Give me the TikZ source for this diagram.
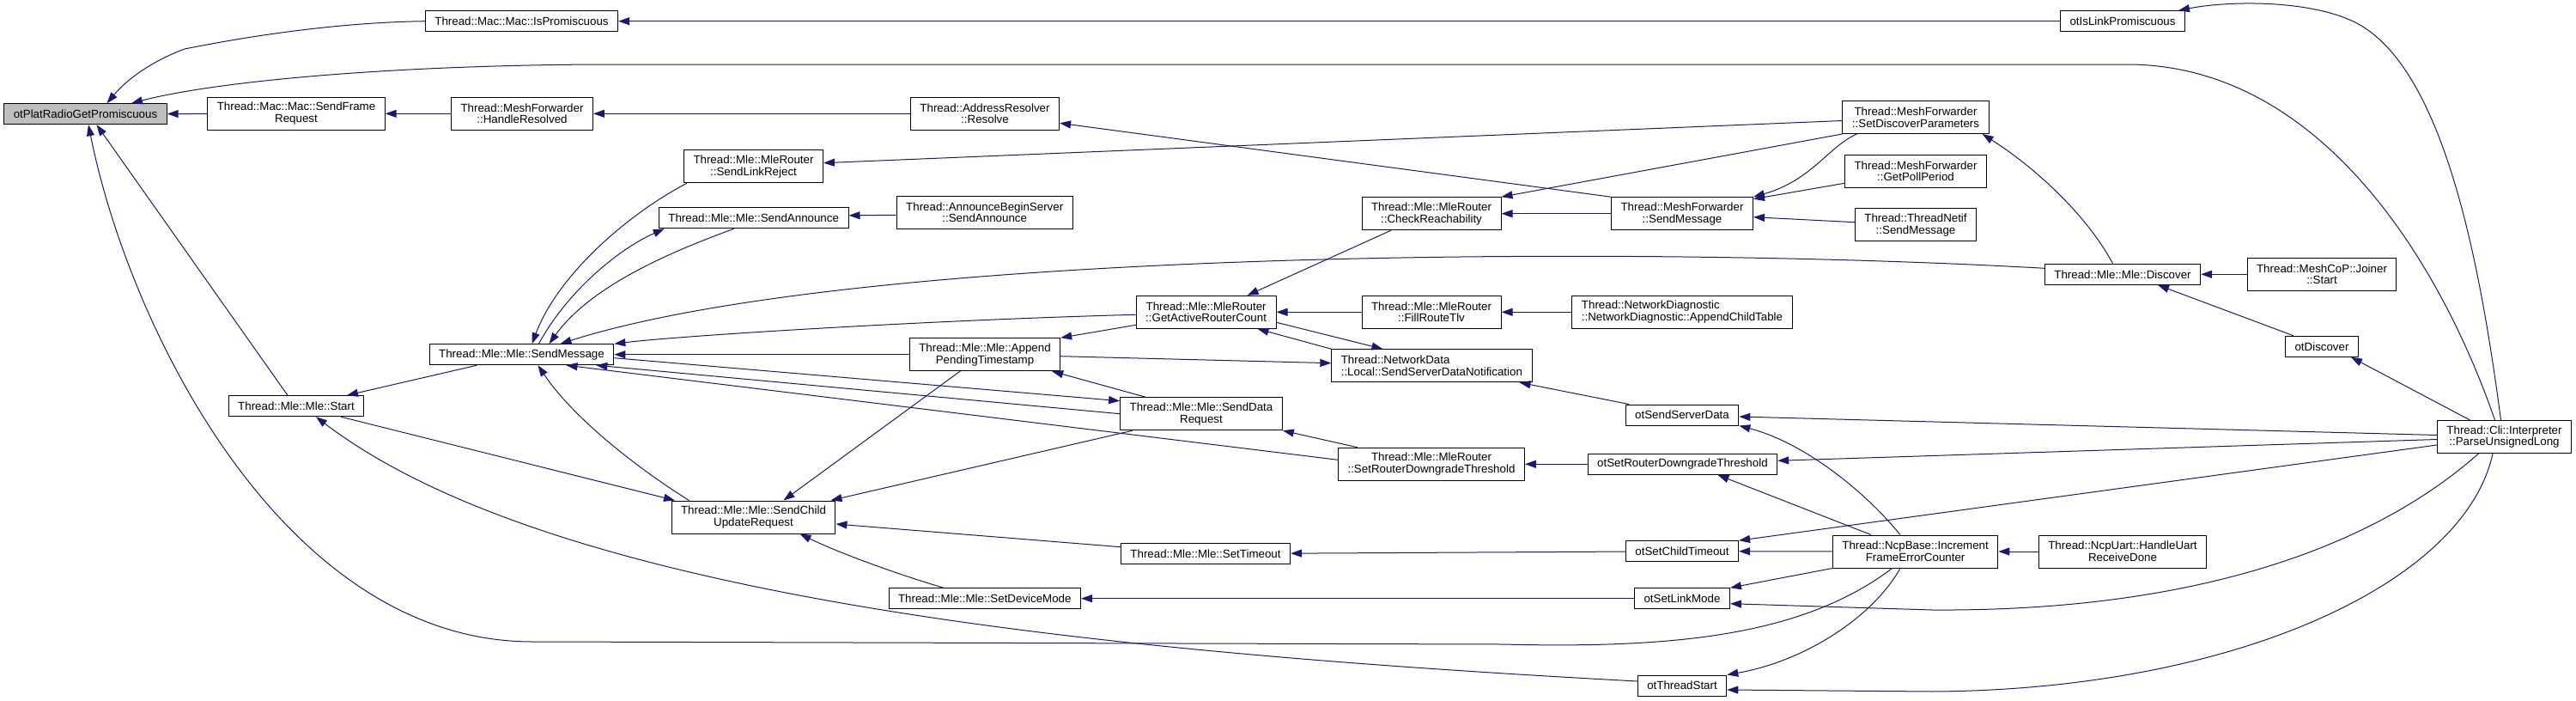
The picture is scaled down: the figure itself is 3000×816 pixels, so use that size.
\documentclass[tikz,border=0pt]{standalone}
\usepackage{fontspec}
\setmainfont{Liberation Sans}
\usetikzlibrary{arrows.meta}
\definecolor{callblue}{RGB}{25,25,112}
\definecolor{hlgray}{RGB}{191,191,191}
\tikzset{
  fn/.style={draw=black, line width=1pt, fill=white, inner xsep=11pt, inner ysep=2pt,
    minimum height=24pt, align=center, font=\fontsize{13.33}{13.8}\selectfont},
  fnl/.style={fn, align=left},
  two/.style={minimum height=38pt},
  hl/.style={fill=hlgray},
  callarrow/.style={draw=callblue, line width=1pt, -{Triangle[length=13pt,width=9pt]}}
}
\begin{document}
\begin{tikzpicture}[x=1pt,y=-1pt]
\useasboundingbox (0,0) rectangle (3000,816);

\node[fn,hl] (plat) at (99.5,132.7) {otPlatRadioGetPromiscuous};
\node[fn] (macprom) at (607.5,24.7) {Thread::Mac::Mac::IsPromiscuous};
\node[fn] (islink) at (2472,24.7) {otIsLinkPromiscuous};
\node[fn,two] (sendframe) at (345,132.3) {Thread::Mac::Mac::SendFrame\\Request};
\node[fn,two] (handleres) at (608,132.3) {Thread::MeshForwarder\\::HandleResolved};
\node[fn,two] (resolve) at (1147,132.3) {Thread::AddressResolver\\::Resolve};
\node[fn,two] (linkreject) at (877.5,193.7) {Thread::Mle::MleRouter\\::SendLinkReject};
\node[fn] (mleannounce) at (877.7,253.8) {Thread::Mle::Mle::SendAnnounce};
\node[fn,two] (beginserver) at (1146.7,247.3) {Thread::AnnounceBeginServer\\::SendAnnounce};
\node[fn,two] (reach) at (1667,248.7) {Thread::Mle::MleRouter\\::CheckReachability};
\node[fn,two] (mfsend) at (1959,248.7) {Thread::MeshForwarder\\::SendMessage};
\node[fn,two] (discparams) at (2231,136.5) {Thread::MeshForwarder\\::SetDiscoverParameters};
\node[fn,two] (pollperiod) at (2231,199.3) {Thread::MeshForwarder\\::GetPollPeriod};
\node[fn,two] (netifsend) at (2231,261.7) {Thread::ThreadNetif\\::SendMessage};
\node[fn] (mlesend) at (607.5,412.7) {Thread::Mle::Mle::SendMessage};
\node[fn] (mlestart) at (345,472.7) {Thread::Mle::Mle::Start};
\node[fn,two] (pending) at (1147,412.7) {Thread::Mle::Mle::Append\\PendingTimestamp};
\node[fn,two] (activecount) at (1404.6,363.3) {Thread::Mle::MleRouter\\::GetActiveRouterCount};
\node[fn,two] (datareq) at (1399,481.7) {Thread::Mle::Mle::SendData\\Request};
\node[fn,two] (routetlv) at (1667,363.3) {Thread::Mle::MleRouter\\::FillRouteTlv};
\node[fnl,two] (childtable) at (1959,363.3) {Thread::NetworkDiagnostic\\::NetworkDiagnostic::AppendChildTable};
\node[fnl,two] (notify) at (1667.4,425.7) {Thread::NetworkData\\::Local::SendServerDataNotification};
\node[fn] (srvdata) at (1959,483) {otSendServerData};
\node[fn,two] (downgrade) at (1667,540.3) {Thread::Mle::MleRouter\\::SetRouterDowngradeThreshold};
\node[fn] (otdowngrade) at (1959.4,540.3) {otSetRouterDowngradeThreshold};
\node[fn] (mlediscover) at (2472,319.3) {Thread::Mle::Mle::Discover};
\node[fn,two] (joiner) at (2704,319.3) {Thread::MeshCoP::Joiner\\::Start};
\node[fn] (otdiscover) at (2704,403.3) {otDiscover};
\node[fn,two] (cli) at (2916.5,508.5) {Thread::Cli::Interpreter\\::ParseUnsignedLong};
\node[fn,two] (childupd) at (877.5,602) {Thread::Mle::Mle::SendChild\\UpdateRequest};
\node[fn] (settimeout) at (1404,644.7) {Thread::Mle::Mle::SetTimeout};
\node[fn] (devmode) at (1146.8,696.7) {Thread::Mle::Mle::SetDeviceMode};
\node[fn] (childtimeout) at (1959,641.7) {otSetChildTimeout};
\node[fn,two] (ncpbase) at (2230.6,642) {Thread::NcpBase::Increment\\FrameErrorCounter};
\node[fn] (linkmode) at (1959,696.7) {otSetLinkMode};
\node[fn] (threadstart) at (1959,798) {otThreadStart};
\node[fn,two] (ncpuart) at (2472,642) {Thread::NcpUart::HandleUart\\ReceiveDone};

\draw[callarrow] (macprom.west) .. controls (400,26) and (300,40) .. (215,57) .. controls (180,70) and (150,90) .. ([xshift=25pt]plat.north);
\draw[callarrow] ([xshift=-11pt]cli.north) .. controls (2840,300) and (2700,77) .. (2480,75) -- (700,75) .. controls (450,76) and (250,95) .. ([xshift=53.5pt]plat.north);
\draw[callarrow] (sendframe) -- (plat);
\draw[callarrow] ([xshift=-10pt]mlestart.north) -- ([xshift=13pt]plat.south);
\draw[callarrow] ([xshift=-27pt]ncpbase.south) .. controls (2100,740) and (1950,755) .. (1750,750) -- (620,747) .. controls (330,747) and (150,380) .. ([xshift=3.5pt]plat.south);
\draw[callarrow] (islink) -- (macprom);
\draw[callarrow] ([xshift=-4pt]cli.north) .. controls (2890,320) and (2850,90) .. (2750,30) .. controls (2700,0) and (2600,0) .. ([xshift=65pt]islink.north);
\draw[callarrow] (handleres) -- (sendframe);
\draw[callarrow] (resolve) -- (handleres);
\draw[callarrow] (mfsend.north west) -- ([yshift=-11pt]resolve.east);
\draw[callarrow] ([yshift=-4pt]discparams.west) -- ([yshift=4pt]linkreject.east);
\draw[callarrow] ([yshift=-3pt]beginserver.west) -- ([yshift=3pt]mleannounce.east);

\draw[callarrow] ([xshift=-77.5pt]linkreject.south) .. controls (730,250) and (650,320) .. ([xshift=12pt]mlesend.north);
\draw[callarrow] ([xshift=20pt]mlesend.north) .. controls (660,340) and (720,290) .. ([xshift=-104pt]mleannounce.south);
\draw[callarrow] ([xshift=-23pt]mleannounce.south) .. controls (790,290) and (690,330) .. ([xshift=32pt]mlesend.north);
\draw[callarrow] ([yshift=7pt]mlediscover.west) .. controls (1900,285) and (1000,290) .. ([xshift=45pt]mlesend.north);
\draw[callarrow] ([yshift=-3pt]activecount.west) .. controls (1100,372) and (800,390) .. (mlesend.north east);
\draw[callarrow] (pending) -- (mlesend);
\draw[callarrow] ([yshift=-4pt]mlesend.east) -- ([yshift=15pt]datareq.west);
\draw[callarrow] (datareq.west) -- ([xshift=-21pt]mlesend.south east);
\draw[callarrow] ([yshift=5pt]downgrade.west) -- ([xshift=52pt]mlesend.south);
\draw[callarrow] ([xshift=-75pt]childupd.north) .. controls (750,550) and (670,490) .. ([xshift=19pt]mlesend.south);
\draw[callarrow] ([xshift=-52pt]mlesend.south) -- ([xshift=59pt]mlestart.north);

\draw[callarrow] ([yshift=5pt]threadstart.west) .. controls (1300,760) and (650,700) .. ([xshift=23pt]mlestart.south);
\draw[callarrow] ([xshift=52pt]mlestart.south) -- ([xshift=-91.5pt]childupd.north);
\draw[callarrow] ([xshift=-29pt]pending.south) -- ([xshift=35pt]childupd.north);
\draw[callarrow] ([xshift=-80pt]datareq.south) -- ([xshift=90pt]childupd.north);
\draw[callarrow] ([yshift=8pt]settimeout.west) -- ([yshift=-8pt]childupd.east);
\draw[callarrow] ([xshift=-48pt]devmode.north) .. controls (1050,670) and (980,645) .. ([xshift=54pt]childupd.south);

\draw[callarrow] ([yshift=-15pt]activecount.west) -- (pending.north east);
\draw[callarrow] ([xshift=-65pt]datareq.north) -- ([xshift=-10pt]pending.south east);
\draw[callarrow] ([yshift=-2pt]pending.east) -- ([yshift=3pt]notify.west);
\draw[callarrow] ([xshift=-47pt]reach.south) -- ([xshift=48pt]activecount.north);
\draw[callarrow] (routetlv) -- (activecount);
\draw[callarrow] (notify.north west) -- ([xshift=-22pt]activecount.south east);
\draw[callarrow] ([yshift=-12pt]activecount.east) -- ([xshift=-57pt]notify.north);
\draw[callarrow] (childtable) -- (routetlv);
\draw[callarrow] ([xshift=-62pt]srvdata.north) -- ([xshift=-15pt]notify.south east);
\draw[callarrow] ([xshift=-86pt]downgrade.north) -- (datareq.south east);
\draw[callarrow] (otdowngrade) -- (downgrade);

\draw[callarrow] (mfsend) -- (reach);
\draw[callarrow] (discparams.south west) -- (reach.north east);
\draw[callarrow] ([xshift=-68.5pt]discparams.south) .. controls (2130,170) and (2110,210) .. (mfsend.north east);
\draw[callarrow] ([yshift=-14pt]pollperiod.west) -- ([yshift=17pt]mfsend.east);
\draw[callarrow] ([yshift=3pt]netifsend.west) -- ([yshift=-4pt]mfsend.east);
\draw[callarrow] ([xshift=-11.5pt]mlediscover.north) .. controls (2430,250) and (2370,195) .. ([xshift=-8pt]discparams.south east);
\draw[callarrow] (joiner) -- (mlediscover);
\draw[callarrow] ([xshift=-33pt]otdiscover.north) -- ([xshift=41pt]mlediscover.south);
\draw[callarrow] ([xshift=-40pt]cli.north) -- ([xshift=34pt]otdiscover.south);

\draw[callarrow] ([yshift=2pt]cli.west) -- ([yshift=-2pt]srvdata.east);
\draw[callarrow] ([xshift=-17.6pt]ncpbase.north) .. controls (2170,570) and (2100,515) .. (srvdata.south east);
\draw[callarrow] ([yshift=-3pt]cli.west) -- ([yshift=4pt]otdowngrade.east);
\draw[callarrow] ([xshift=-51.6pt]ncpbase.north) -- ([xshift=41pt]otdowngrade.south);
\draw[callarrow] (childtimeout) -- (settimeout);
\draw[callarrow] (ncpbase) -- (childtimeout);
\draw[callarrow] ([yshift=-9.5pt]cli.west) -- (childtimeout.north east);
\draw[callarrow] (linkmode) -- (devmode);
\draw[callarrow] (ncpbase.south west) -- (linkmode.north east);
\draw[callarrow] ([xshift=-30pt]cli.south) .. controls (2760,640) and (2550,712) .. (2250,710) -- ([yshift=-6pt]linkmode.east);
\draw[callarrow] ([xshift=-13.5pt]cli.south) .. controls (2870,680) and (2600,803) .. (2250,805) -- ([yshift=-5pt]threadstart.east);
\draw[callarrow] ([xshift=-17.6pt]ncpbase.south) .. controls (2180,720) and (2100,770) .. (threadstart.north east);
\draw[callarrow] (ncpuart) -- (ncpbase);
\end{tikzpicture}
\end{document}
